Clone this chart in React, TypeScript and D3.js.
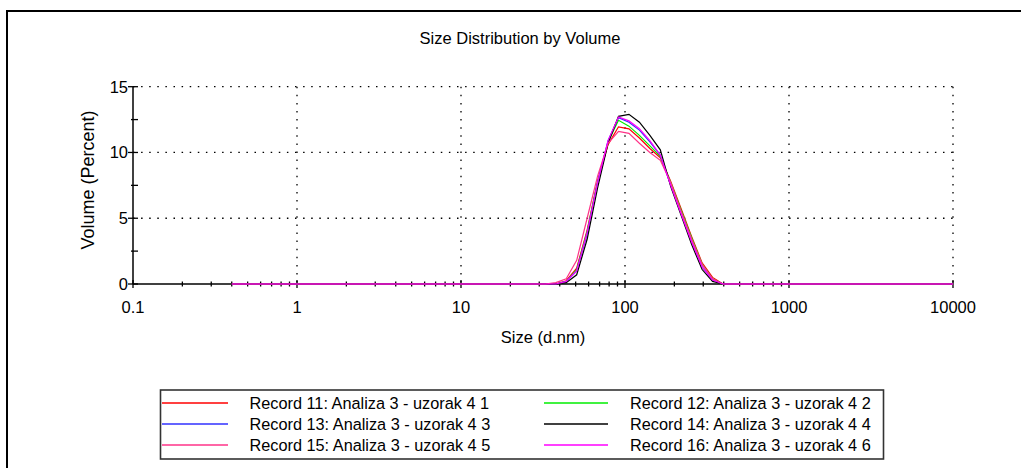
import React from "react";
import * as d3 from "d3";

// Size bins (d.nm)
const sizes: number[] = [
  0.4, 0.4632, 0.5365, 0.6213, 0.7195, 0.8332, 0.9649, 1.117, 1.294, 1.499,
  1.736, 2.01, 2.328, 2.696, 3.122, 3.615, 4.187, 4.849, 5.615, 6.503,
  7.531, 8.721, 10.1, 11.7, 13.54, 15.69, 18.17, 21.04, 24.36, 28.21,
  32.67, 37.84, 43.82, 50.75, 58.77, 68.06, 78.82, 91.28, 105.7, 122.4,
  141.8, 164.2, 190.1, 220.2, 255.0, 295.3, 342.0, 396.1, 458.7, 531.2,
  615.1, 712.4, 825.0, 955.4, 1106, 1281, 1484, 1718, 1990, 2305,
  2669, 3091, 3580, 4145, 4801, 5560, 6439, 7456, 8635, 10000,
];

const record11: number[] = [
  0, 0, 0, 0, 0, 0, 0, 0, 0, 0,
  0, 0, 0, 0, 0, 0, 0, 0, 0, 0,
  0, 0, 0, 0, 0, 0, 0, 0, 0, 0,
  0, 0, 0.25, 1.2, 4.1, 7.8, 10.6, 11.95, 11.8, 11.1,
  10.3, 9.6, 7.8, 5.7, 3.6, 1.6, 0.5, 0, 0, 0,
  0, 0, 0, 0, 0, 0, 0, 0, 0, 0,
  0, 0, 0, 0, 0, 0, 0, 0, 0, 0,
];
const record12: number[] = [
  0, 0, 0, 0, 0, 0, 0, 0, 0, 0,
  0, 0, 0, 0, 0, 0, 0, 0, 0, 0,
  0, 0, 0, 0, 0, 0, 0, 0, 0, 0,
  0, 0, 0.2, 1.1, 4.0, 7.8, 10.8, 12.45, 12.0, 11.3,
  10.5, 9.7, 7.7, 5.6, 3.5, 1.5, 0.4, 0, 0, 0,
  0, 0, 0, 0, 0, 0, 0, 0, 0, 0,
  0, 0, 0, 0, 0, 0, 0, 0, 0, 0,
];
const record13: number[] = [
  0, 0, 0, 0, 0, 0, 0, 0, 0, 0,
  0, 0, 0, 0, 0, 0, 0, 0, 0, 0,
  0, 0, 0, 0, 0, 0, 0, 0, 0, 0,
  0, 0, 0.2, 1.0, 3.8, 7.7, 10.9, 12.65, 12.3, 11.7,
  10.8, 9.8, 7.5, 5.3, 3.2, 1.3, 0.3, 0, 0, 0,
  0, 0, 0, 0, 0, 0, 0, 0, 0, 0,
  0, 0, 0, 0, 0, 0, 0, 0, 0, 0,
];
const record14: number[] = [
  0, 0, 0, 0, 0, 0, 0, 0, 0, 0,
  0, 0, 0, 0, 0, 0, 0, 0, 0, 0,
  0, 0, 0, 0, 0, 0, 0, 0, 0, 0,
  0, 0, 0.1, 0.7, 3.4, 7.3, 10.7, 12.75, 12.9, 12.3,
  11.3, 10.2, 7.4, 5.2, 3.0, 1.1, 0.2, 0, 0, 0,
  0, 0, 0, 0, 0, 0, 0, 0, 0, 0,
  0, 0, 0, 0, 0, 0, 0, 0, 0, 0,
];
const record15: number[] = [
  0, 0, 0, 0, 0, 0, 0, 0, 0, 0,
  0, 0, 0, 0, 0, 0, 0, 0, 0, 0,
  0, 0, 0, 0, 0, 0, 0, 0, 0, 0,
  0, 0.1, 0.4, 1.8, 5.0, 8.2, 10.7, 11.6, 11.45, 10.7,
  10.0, 9.4, 7.7, 5.5, 3.4, 1.5, 0.4, 0, 0, 0,
  0, 0, 0, 0, 0, 0, 0, 0, 0, 0,
  0, 0, 0, 0, 0, 0, 0, 0, 0, 0,
];
const record16: number[] = [
  0, 0, 0, 0, 0, 0, 0, 0, 0, 0,
  0, 0, 0, 0, 0, 0, 0, 0, 0, 0,
  0, 0, 0, 0, 0, 0, 0, 0, 0, 0,
  0, 0, 0.2, 1.0, 3.9, 7.7, 10.9, 12.7, 12.4, 11.8,
  10.9, 9.8, 7.5, 5.3, 3.2, 1.3, 0.3, 0, 0, 0,
  0, 0, 0, 0, 0, 0, 0, 0, 0, 0,
  0, 0, 0, 0, 0, 0, 0, 0, 0, 0,
];

const seriesNames: string[] = [
  "Record 11: Analiza 3 - uzorak 4 1",
  "Record 12: Analiza 3 - uzorak 4 2",
  "Record 13: Analiza 3 - uzorak 4 3",
  "Record 14: Analiza 3 - uzorak 4 4",
  "Record 15: Analiza 3 - uzorak 4 5",
  "Record 16: Analiza 3 - uzorak 4 6",
];
const seriesColors: string[] = ["#ff0000", "#00ee00", "#3030ff", "#000000", "#ff3388", "#ff00ff"];
const seriesValues: number[][] = [record11, record12, record13, record14, record15, record16];

const xTickLabels: string[] = ["0.1", "1", "10", "100", "1000", "10000"];
const xTickValues: number[] = [0.1, 1, 10, 100, 1000, 10000];
const yTickValues: number[] = [0, 5, 10, 15];
const yMinorValues: number[] = [2.5, 7.5, 12.5];

const W = 1021;
const H = 468;
const FONT = "'Liberation Sans', Arial, sans-serif";

export default function App() {
  const x = d3.scaleLog().domain([0.1, 10000]).range([133, 953]);
  const y = d3.scaleLinear().domain([0, 15]).range([284, 86.7]);

  const line = d3
    .line<number>()
    .x((_, i) => x(sizes[i]))
    .y((v) => y(v));

  const minorX: number[] = [];
  for (let d = 0; d < 4; d++) {
    const base = xTickValues[d];
    for (let m = 2; m <= 9; m++) minorX.push(base * m);
  }

  const [x0, x1] = x.range();
  const [yb, yt] = y.range();

  const legendRowsY = [403, 424, 445];

  return (
    <svg
      width={W}
      height={H}
      style={{ position: "absolute", left: 0, top: 0, display: "block", background: "#fff" }}
      fontFamily={FONT}
    >
      <rect x={0} y={0} width={W} height={H} fill="#fff" />
      {/* outer frame */}
      <rect x={7} y={11} width={W + 20} height={H + 20} fill="none" stroke="#000" strokeWidth={2} />

      {/* title */}
      <text x={520} y={44} fontSize={16.5} textAnchor="middle" fill="#000">
        Size Distribution by Volume
      </text>

      {/* gridlines */}
      <g stroke="#000" strokeWidth={1.3} strokeDasharray="1.5 6.6">
        {yTickValues
          .filter((v) => v > 0)
          .map((v) => (
            <line key={"gy" + v} x1={x0} x2={x1} y1={y(v)} y2={y(v)} />
          ))}
        {xTickValues
          .filter((v) => v > 0.1)
          .map((v) => (
            <line key={"gx" + v} x1={x(v)} x2={x(v)} y1={yt} y2={yb} />
          ))}
      </g>

      {/* axes */}
      <line x1={x0} x2={x0} y1={yt} y2={yb} stroke="#000" strokeWidth={1.5} />
      <line x1={x0} x2={x1} y1={yb} y2={yb} stroke="#000" strokeWidth={1.5} />
      {yTickValues.map((v) => (
        <g key={"yt" + v}>
          <line x1={x0 - 5} x2={x0 + 5} y1={y(v)} y2={y(v)} stroke="#000" strokeWidth={1.3} />
          <text x={x0 - 5} y={y(v)} dy="0.36em" fontSize={16.5} textAnchor="end" fill="#000">
            {v}
          </text>
        </g>
      ))}
      {yMinorValues.map((v) => (
        <line key={"ym" + v} x1={x0 - 2} x2={x0 + 5} y1={y(v)} y2={y(v)} stroke="#000" strokeWidth={1.3} />
      ))}
      {xTickValues.map((v, i) => (
        <g key={"xt" + v}>
          <line x1={x(v)} x2={x(v)} y1={yb - 4} y2={yb + 4} stroke="#000" strokeWidth={1.3} />
          <text x={x(v)} y={313} fontSize={16.5} textAnchor="middle" fill="#000">
            {xTickLabels[i]}
          </text>
        </g>
      ))}
      {minorX.map((v) => (
        <line key={"xm" + v} x1={x(v)} x2={x(v)} y1={yb - 2.5} y2={yb + 2.5} stroke="#000" strokeWidth={1.3} />
      ))}

      {/* axis titles */}
      <text x={543} y={343} fontSize={16.5} textAnchor="middle" fill="#000">
        Size (d.nm)
      </text>
      <text
        transform={`translate(94, 180) rotate(-90)`}
        fontSize={18}
        textAnchor="middle"
        fill="#000"
      >
        Volume (Percent)
      </text>

      {/* series */}
      {seriesValues.map((vals, i) => (
        <path key={"s" + i} d={line(vals) || ""} fill="none" stroke={seriesColors[i]} strokeWidth={1.2} />
      ))}

      {/* legend */}
      <rect x={160.5} y={390} width={723} height={69} fill="#fff" stroke="#333" strokeWidth={1.6} />
      {seriesNames.map((name, i) => {
        const col = i % 2;
        const row = Math.floor(i / 2);
        const ly = legendRowsY[row];
        const lx0 = col === 0 ? 162 : 544;
        const lx1 = col === 0 ? 228 : 608;
        const tx = col === 0 ? 249.5 : 630;
        return (
          <g key={"lg" + i}>
            <line x1={lx0} x2={lx1} y1={ly} y2={ly} stroke={seriesColors[i]} strokeWidth={1.6} />
            <text x={tx} y={ly} dy="0.36em" fontSize={16.3} fill="#000">
              {name}
            </text>
          </g>
        );
      })}
    </svg>
  );
}
